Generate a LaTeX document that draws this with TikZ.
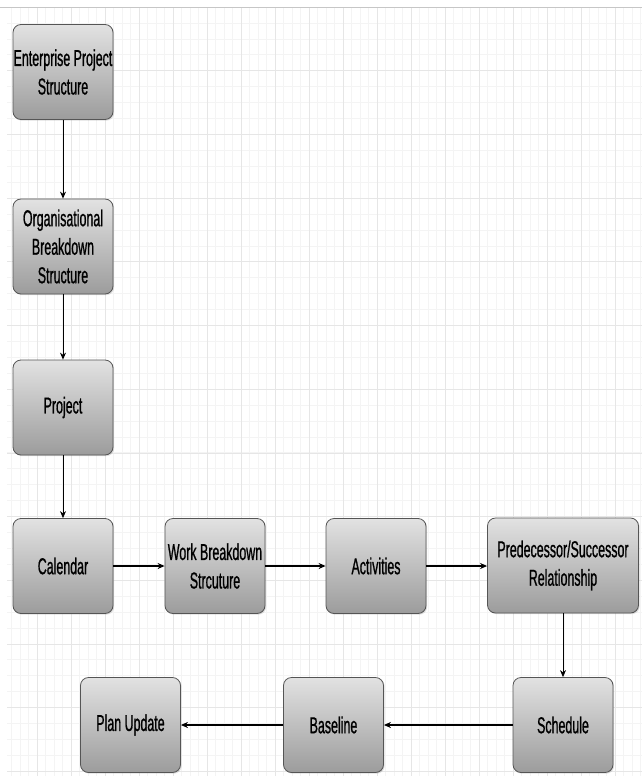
\documentclass[tikz,border=0pt]{standalone}
\usepackage{fontspec}
\setmainfont{Liberation Sans}[FakeStretch=0.54,FakeBold=0.8]
\usetikzlibrary{arrows.meta,shadows}
\definecolor{gminor}{HTML}{F4F4F4}
\definecolor{gmajor}{HTML}{E6E6E6}
\definecolor{boxtop}{HTML}{E2E2E2}
\definecolor{boxbot}{HTML}{9C9C9C}
\definecolor{boxline}{HTML}{555555}
\tikzset{
  stepbox/.style={draw=boxline, line width=0.8pt, rounded corners=8pt,
    top color=boxtop, bottom color=boxbot,
    drop shadow={opacity=0.25, shadow xshift=1.2pt, shadow yshift=-1.2pt},
    minimum width=100pt, minimum height=95pt, inner sep=0pt, align=center,
    font=\fontsize{23}{28.5}\selectfont},
  varrow/.style={-{Stealth[length=7pt,width=6pt]}, line width=0.9pt, black},
  harrow/.style={-{Stealth[length=7pt,width=6pt]}, line width=1.6pt, black},
  minorline/.style={gminor, line width=0.6pt},
  majorline/.style={gmajor, line width=0.8pt}
}
\begin{document}
\begin{tikzpicture}[x=1pt,y=-1pt]
\useasboundingbox (0,0) rectangle (642,776);
\fill[white] (0,0) rectangle (642,776);
% grid
\begin{scope}
\clip (7,8) rectangle (642,776);
\foreach \i in {0,...,76} {\draw[minorline] ({3+8.5*\i},8) -- ({3+8.5*\i},776);}
\foreach \j in {0,...,49} {\draw[minorline] (7,{7+15.92*\j}) -- (642,{7+15.92*\j});}
\foreach \i in {0,...,19} {\draw[majorline] ({3+34*\i},8) -- ({3+34*\i},776);}
\foreach \j in {0,...,12} {\draw[majorline] (7,{7+63.7*\j}) -- (642,{7+63.7*\j});}
\end{scope}
\draw[gray!45, line width=1.5pt] (0,7.5) -- (642,7.5);
% nodes
\node[stepbox] (eps) at (63,72) {Enterprise Project\\Structure};
\node[stepbox] (obs) at (63,246.5) {Organisational\\Breakdown\\Structure};
\node[stepbox] (proj) at (63,407.5) {Project};
\node[stepbox] (cal) at (63,566) {Calendar};
\node[stepbox] (wbs) at (215,566) {Work Breakdown\\Strcuture};
\node[stepbox] (act) at (376,566) {Activities};
\node[stepbox, minimum width=151pt] (pred) at (563,565.5) {Predecessor/Successor\\Relationship};
\node[stepbox] (sch) at (563,725) {Schedule};
\node[stepbox] (base) at (333.5,725) {Baseline};
\node[stepbox] (plan) at (130.5,725) {Plan Update};
% connectors
\draw[varrow] (eps) -- (obs);
\draw[varrow] (obs) -- (proj);
\draw[varrow] (proj) -- (cal);
\draw[harrow] (cal) -- (wbs);
\draw[varrow, line width=1.2pt] (wbs) -- (act);
\draw[harrow] (act.east) -- (act.east -| pred.west);
\draw[varrow] (pred) -- (sch);
\draw[harrow] (sch) -- (base);
\draw[harrow] (base) -- (plan);
\end{tikzpicture}
\end{document}
